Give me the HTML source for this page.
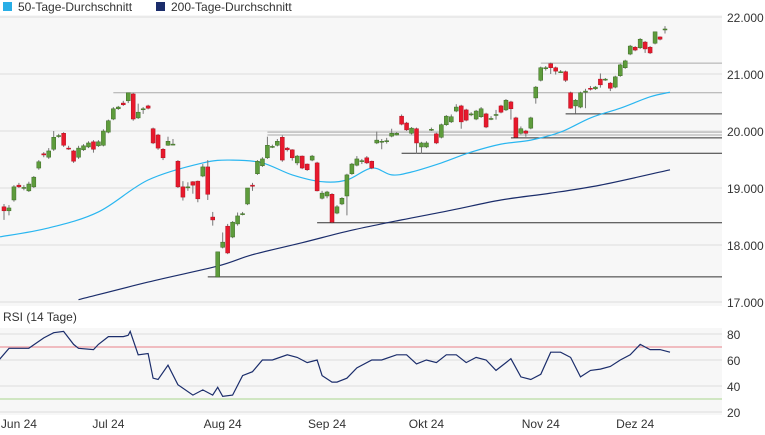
<!DOCTYPE html>
<html><head><meta charset="utf-8"><style>
body{margin:0;background:#fff;font-family:"Liberation Sans",sans-serif;}
svg text{font-family:"Liberation Sans",sans-serif;font-size:12px;fill:#333;}
</style></head><body>
<svg id="c" width="765" height="430" xmlns="http://www.w3.org/2000/svg">
<g>
<rect x="3" y="2" width="9" height="9" fill="#29aee6"/>
<text x="18" y="11">50-Tage-Durchschnitt</text>
<rect x="156" y="2" width="9" height="9" fill="#1b2d6b"/>
<text x="171" y="11">200-Tage-Durchschnitt</text>
</g>
<text x="3" y="321">RSI (14 Tage)</text>
</svg>
<script>
const yTicks=[17000,18000,19000,20000,21000,22000];
const yTickLabels=["17.000","18.000","19.000","20.000","21.000","22.000"];
const rsiTicks=[20,40,60,80];
const xLabels=["Jun 24","Jul 24","Aug 24","Sep 24","Okt 24","Nov 24","Dez 24"];
const xLabelIdx=[3,21,44,65,85,108,127];
const opens=[18670,18600,18790,19050,19000,18950,19020,19350,19600,19540,19680,19910,19960,19700,19650,19540,19670,19720,19810,19740,19750,19980,20210,20390,20490,20530,20650,20230,20380,20440,20040,19930,19680,19750,19770,19470,19020,19020,19110,19120,19210,19370,18490,17440,17960,18330,18140,18370,18540,18720,19050,19250,19390,19530,19720,19750,19890,19700,19670,19440,19560,19420,19490,19440,18820,18860,18890,18560,18720,18860,19250,19400,19470,19530,19470,19790,19810,19820,19910,19930,20260,20140,19960,20040,19720,19720,20020,19950,19890,20110,20160,20350,20440,20370,20300,20210,20250,20300,20220,20280,20440,20370,20510,20230,19960,20000,20050,20580,20890,21100,21180,21110,21040,21040,20670,20440,20420,20680,20750,20740,20910,20900,20840,20770,20970,21110,21350,21470,21460,21560,21470,21540,21650,21790];
const closes=[18600,18650,19020,19020,19010,19070,19190,19460,19580,19650,19890,19920,19750,19690,19470,19700,19740,19790,19680,19810,20000,20180,20390,20420,20460,20670,20210,20330,20390,20400,19790,19700,19530,19820,19770,19020,18840,19020,19050,18810,19370,18890,18440,17880,18050,17860,18400,18510,18550,19000,19030,19470,19510,19750,19730,19820,19490,19670,19530,19560,19350,19320,19560,18950,18910,18930,18400,18670,18820,19230,19420,19510,19480,19440,19350,19840,19820,19830,19960,19960,20120,20020,20050,19790,19790,19790,20030,19790,20110,20260,20250,20420,20160,20190,20300,20350,20390,20070,20220,20290,20330,20540,20390,19890,20040,19960,20230,20770,21110,21110,21110,21050,21040,20890,20400,20540,20670,20700,20740,20770,20810,20910,20750,20950,21160,21230,21490,21420,21610,21440,21370,21740,21610,21790];
const highs=[18720,18700,19050,19090,19050,19110,19210,19490,19630,19700,20000,19950,19980,19740,19670,19740,19770,19820,19840,19840,20030,20200,20420,20440,20530,20670,20670,20480,20420,20460,20060,19950,19700,19900,19860,19490,19120,19100,19120,19130,19420,19490,18580,17880,18220,18370,18420,18570,18580,19000,19090,19490,19540,19900,19760,19860,19920,19720,19680,19580,19570,19430,19580,19460,18950,18950,18910,18700,18840,19250,19440,19560,19510,19560,19480,19990,19860,19880,20040,19980,20290,20160,20070,20060,19810,19820,20060,19970,20130,20280,20290,20470,20460,20390,20330,20370,20420,20320,20260,20370,20460,20560,20530,20250,20080,20020,20250,20790,21130,21140,21200,21130,21070,21060,20690,20560,20690,20740,20790,20790,21010,20930,20860,20970,21180,21250,21510,21490,21630,21580,21490,21740,21660,21840];
const lows=[18440,18520,18760,19000,18960,18930,19000,19320,19540,19510,19650,19880,19720,19670,19440,19510,19650,19700,19620,19720,19730,19960,20190,20370,20440,20490,20180,20210,20300,20380,19770,19670,19490,19740,19750,19000,18780,18950,18900,18750,19190,18790,18340,17440,17940,17840,18120,18340,18520,18700,18950,19230,19370,19510,19700,19730,19460,19640,19480,19400,19330,19300,19470,18940,18800,18820,18380,18540,18700,18520,19230,19380,19420,19420,19330,19770,19680,19780,19890,19920,20100,20000,19940,19600,19600,19700,20000,19770,19870,20090,20140,20330,20040,20170,20260,20190,20230,20050,20190,20200,20310,20350,20200,19880,19940,19900,20030,20480,20870,21060,21000,20990,21020,20860,20390,20310,20400,20400,20710,20720,20760,20880,20700,20750,20950,21090,21330,21400,21440,21370,21350,21520,21590,21710];
const ma50Idx=[-1,9,19,29,40,46,52,58,64,69,74,78,82,88,94,100,106,112,118,124,130,134];
const ma50Val=[18140,18300,18580,19140,19440,19490,19440,19230,19110,19140,19350,19230,19280,19440,19630,19770,19840,19980,20230,20400,20600,20680];
const ma200Idx=[15,29,43,50,60,70,80,90,100,110,120,134];
const ma200Val=[17040,17350,17630,17830,18040,18260,18440,18610,18790,18910,19050,19320];
const rsiIdx=[-1,1,5,8,10,12,14,15,18,19,21,24,25,25.4,27,29,30,31,33,35,38,40,42,43,44,46,48,50,52,54,57,59,61,63,64,66,67,69,71,74,76,79,81,83,85,87,89,91,93,95,97,99,101,102,104,106,108,110,112,114,116,118,120,122,124,126,128,130,132,134];
const rsiVal=[60,69,69,77,81,82,72,69,68,72,78,78,79,82,64,65,46,45,56,41,33,37,33,39,32,33,48,51,60,60,64,62,58,60,48,43,43,46,54,60,60,64,64,57,60,58,64,64,58,62,60,52,58,61,47,45,49,66,66,62,47,52,53,55,60,64,72,68,68,66];
const svg=document.getElementById('c');const NS='http://www.w3.org/2000/svg';
const X0=4,DX=(665-4)/133;
const xs=i=>X0+i*DX;
const ys=p=>302-(p-17000)*0.057;
const yr=v=>412-(v-20)*1.3;
function mk(t,a,parent){const e=document.createElementNS(NS,t);for(const k in a)e.setAttribute(k,a[k]);(parent||svg).appendChild(e);return e;}
let bg=mk('rect',{x:0,y:15,width:722,height:291,fill:'#f7f7f7'});


let bg2=mk('rect',{x:0,y:328,width:722,height:87,fill:'#f7f7f7'});


yTicks.forEach((t,i)=>{let l=mk('line',{x1:0,x2:722,y1:ys(t),y2:ys(t),stroke:'#ddd'});


let tx=mk('text',{x:727,y:ys(t)+5});tx.textContent=yTickLabels[i];

});
rsiTicks.forEach(t=>{let l=mk('line',{x1:0,x2:722,y1:yr(t),y2:yr(t),stroke:'#ddd'});


let tx=mk('text',{x:727,y:yr(t)+5});tx.textContent=t;

});
let l70=mk('line',{x1:0,x2:722,y1:yr(70),y2:yr(70),stroke:'#e8808a'});


let l30=mk('line',{x1:0,x2:722,y1:yr(30),y2:yr(30),stroke:'#a8d48e'});


xLabels.forEach((s,i)=>{let tx=mk('text',{x:xs(xLabelIdx[i]),y:428,'text-anchor':'middle'});tx.textContent=s;

});
const grayLevels=[21190,20670,19980,19930];const grayFrom=[108,22,53,53];
grayLevels.forEach((p,i)=>{let l=mk('line',{x1:xs(grayFrom[i]),x2:722,y1:ys(p),y2:ys(p),stroke:'#aaa'});

});
const darkLevels=[20300,19880,19610,18390,17440];const darkFrom=[113,102,80,63,41];
darkLevels.forEach((p,i)=>{let l=mk('line',{x1:xs(darkFrom[i]),x2:722,y1:ys(p),y2:ys(p),stroke:'#333'});

});
function poly(idx,val,fy,col,name){let d=idx.map((i,k)=>xs(i).toFixed(1)+','+fy(val[k]).toFixed(1)).join(' ');
let p=mk('polyline',{points:d,fill:'none',stroke:col,'stroke-width':1.2});

}
function smooth(idx,val,fy,col,name){const P=idx.map((i,k)=>[xs(i),fy(val[k])]);
let d='M'+P[0][0].toFixed(1)+','+P[0][1].toFixed(1);
for(let k=0;k<P.length-1;k++){const p0=P[Math.max(0,k-1)],p1=P[k],p2=P[k+1],p3=P[Math.min(P.length-1,k+2)];
const c1=[p1[0]+(p2[0]-p0[0])/6,p1[1]+(p2[1]-p0[1])/6],c2=[p2[0]-(p3[0]-p1[0])/6,p2[1]-(p3[1]-p1[1])/6];
d+=' C'+c1.map(v=>v.toFixed(1)).join(',')+' '+c2.map(v=>v.toFixed(1)).join(',')+' '+p2.map(v=>v.toFixed(1)).join(',');}
let p=mk('path',{d:d,fill:'none',stroke:col,'stroke-width':1.2});

}
smooth(ma50Idx,ma50Val,ys,'#29b6f0','ma50-line');
smooth(ma200Idx,ma200Val,ys,'#1b2d6b','ma200-line');
opens.forEach((o,i)=>{const c=closes[i],x=xs(i),up=c>=o;
const g=mk('g',{});


mk('line',{x1:x,x2:x,y1:ys(highs[i]),y2:ys(lows[i]),stroke:'#777'},g);
const t=ys(Math.max(o,c)),b=ys(Math.min(o,c));
mk('rect',{x:x-2,y:t,width:4,height:Math.max(1,b-t),fill:up?'#5e9c3c':'#e8192c',stroke:up?'#3d6b26':'#b01020','stroke-width':0.5},g);});
poly(rsiIdx,rsiVal,yr,'#1b2d6b','rsi-line');
</script>
</body></html>
